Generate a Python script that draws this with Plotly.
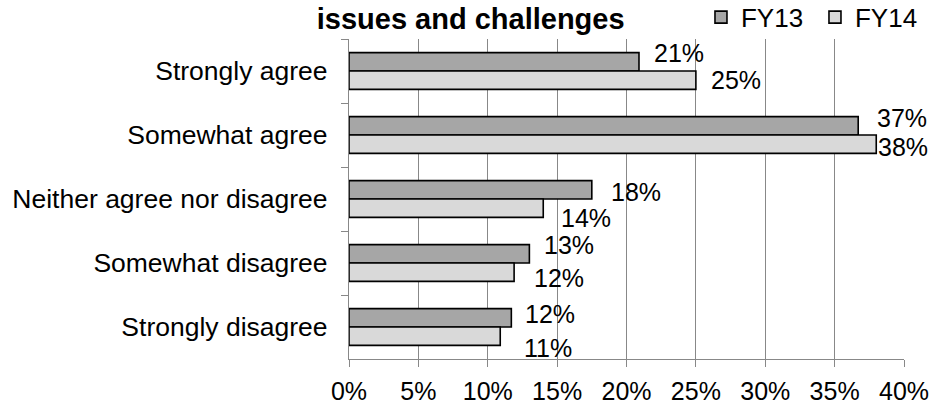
import plotly.graph_objects as go

categories = ["Strongly agree", "Somewhat agree", "Neither agree nor disagree",
              "Somewhat disagree", "Strongly disagree"]
fy13 = [20.9, 36.7, 17.5, 13.0, 11.7]
fy14 = [25.0, 38.0, 14.0, 11.9, 10.9]
series_names = ["FY13", "FY14"]
x_ticks = [0, 5, 10, 15, 20, 25, 30, 35, 40]
x_tick_labels = [f"{t}%" for t in x_ticks]
title_text = "issues and challenges"

# label placement style (pixel nudges, Excel-like best-fit)
fy13_label_dx = [14, 18, 18, 14, 13]
fy13_label_dy = [18, 17, 7, 18, 13]
fy14_label_dx = [14, 1, 17, 19, 23]
fy14_label_dy = [-9, -12, -19, -15, -21]

FONT = "Liberation Sans, Arial, sans-serif"
GRID = "#888888"

fig = go.Figure()
fig.add_trace(go.Bar(
    y=categories, x=fy13, name=series_names[0], orientation="h",
    marker=dict(color="#A6A6A6", line=dict(color="#000000", width=1.6)),
))
fig.add_trace(go.Bar(
    y=categories, x=fy14, name=series_names[1], orientation="h",
    marker=dict(color="#D9D9D9", line=dict(color="#000000", width=1.6)),
))

def lbl(v):
    return f"{int(v + 0.5)}%"

annotations = []
for vals, dxs, dys in ((fy13, fy13_label_dx, fy13_label_dy),
                       (fy14, fy14_label_dx, fy14_label_dy)):
    for cat, v, dx, dy in zip(categories, vals, dxs, dys):
        annotations.append(dict(
            x=v, y=cat, xref="x", yref="y", text=lbl(v), showarrow=False,
            xanchor="left", yanchor="middle", xshift=dx, yshift=dy,
            borderpad=0,
            font=dict(family=FONT, size=25, color="#000000"),
        ))

fig.update_layout(
    width=932, height=404,
    margin=dict(l=349, r=28, t=39, b=45, autoexpand=False),
    paper_bgcolor="white", plot_bgcolor="white",
    barmode="group", bargap=0.427, bargroupgap=0,
    font=dict(family=FONT, size=25, color="#000000"),
    title=dict(text=f"<b>{title_text}</b>", x=0.505, xref="container",
               xanchor="center", y=0.953, yref="container", yanchor="middle",
               font=dict(family=FONT, size=29, color="#000000")),
    legend=dict(orientation="h", x=1.045, xref="paper", xanchor="right",
                y=1.068, yref="paper", yanchor="middle",
                font=dict(family=FONT, size=26, color="#000000"),
                itemwidth=30, entrywidth=69, entrywidthmode="pixels",
                bgcolor="rgba(0,0,0,0)", traceorder="normal"),
    annotations=annotations,
    showlegend=True,
)
fig.update_xaxes(
    range=[0, 40], tickvals=x_ticks, ticktext=x_tick_labels,
    showgrid=True, gridcolor=GRID, gridwidth=1,
    showline=True, linecolor=GRID, linewidth=1.2,
    ticks="outside", ticklen=7, tickcolor=GRID, ticklabelstandoff=3,
    tickfont=dict(family=FONT, size=25, color="#000000"),
    zeroline=False, fixedrange=True,
)
fig.update_yaxes(
    categoryorder="array", categoryarray=categories, autorange="reversed",
    showline=True, linecolor=GRID, linewidth=1.2,
    ticks="outside", ticklen=7, tickcolor=GRID, tickson="boundaries",
    ticklabelstandoff=15,
    tickfont=dict(family=FONT, size=26.5, color="#000000"),
    showgrid=False, zeroline=False, fixedrange=True,
)

fig.write_html("out.html", config={"displayModeBar": False},
               post_script="document.body.style.margin='0';")
